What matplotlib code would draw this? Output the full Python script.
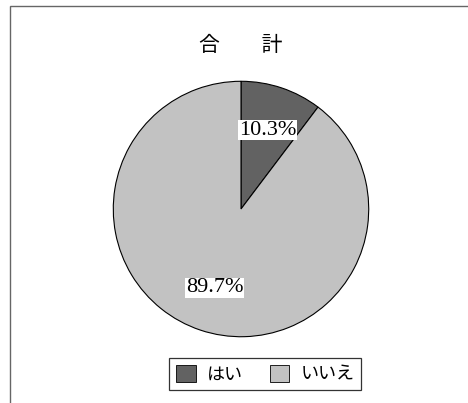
import matplotlib
matplotlib.use('Agg')
import matplotlib.pyplot as plt
from matplotlib.patches import Patch, Rectangle

# データ
labels = ['はい', 'いいえ']
values = [10.3, 89.7]
colors = ['#626262', '#c2c2c2']
title = '合　　計'

plt.rcParams['font.family'] = ['Noto Sans CJK JP', 'DejaVu Sans']

W, H = 468, 403
fig = plt.figure(figsize=(W / 100, H / 100), dpi=100)

# 外枠（右と下は画像の外）
fig.patches.append(Rectangle((10 / W, -0.05), 2.0, 1 - 6 / H + 0.05,
                             transform=fig.transFigure, fill=False,
                             edgecolor='#666666', linewidth=1.0))

# 円グラフ
cx, cy, r = 241, 209, 129
ax = fig.add_axes([(cx - r) / W, (H - cy - r) / H, 2 * r / W, 2 * r / H])
wedges, texts, autotexts = ax.pie(
    values, colors=colors, startangle=90, counterclock=False,
    autopct='%.1f%%', pctdistance=0.65,
    wedgeprops=dict(edgecolor='black', linewidth=0.8))
for t in autotexts:
    t.set_family(['Liberation Serif'])
    t.set_fontsize(16)
    t.set_bbox(dict(facecolor='white', edgecolor='none', pad=0.3))
ax.set_xlim(-1.01, 1.01)
ax.set_ylim(-1.01, 1.01)
ax.set_aspect('equal')

fig.text(241 / W, 1 - 45 / H, title, ha='center', va='center', fontsize=15)

# 凡例
handles = [Patch(facecolor=c, edgecolor='black', linewidth=0.6) for c in colors]
leg = fig.legend(handles, labels, loc='center', ncol=2,
                 bbox_to_anchor=(265 / W, 1 - 374 / H), fontsize=13,
                 frameon=True, fancybox=False, edgecolor='black',
                 handlelength=1.1, handleheight=1.1, columnspacing=1.5,
                 handletextpad=0.6, borderpad=0.35, borderaxespad=0)
leg.get_frame().set_linewidth(0.9)

fig.savefig('out.png', dpi=100)
